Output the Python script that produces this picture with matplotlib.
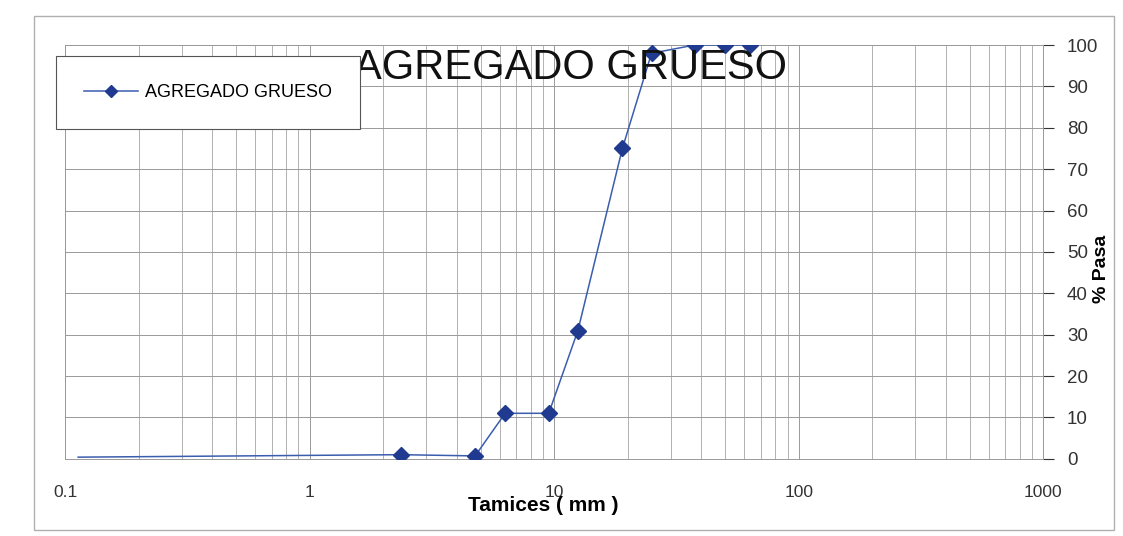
import numpy as np
import matplotlib
matplotlib.use('Agg')
import matplotlib.pyplot as plt
from matplotlib.ticker import FixedLocator, FixedFormatter, LogLocator, NullFormatter
from matplotlib.patches import Rectangle

# ==================== 数据 ====================
tamices_mm = [0.113, 2.36, 4.75, 6.3, 9.5, 12.5, 19.0, 25.0, 37.5, 50.0, 63.0]
pasa_pct = [0.4, 1.0, 0.7, 11.0, 11.0, 31.0, 75.0, 98.0, 100.0, 100.0, 100.0]
x_ticks = [0.1, 1, 10, 100, 1000]
x_labels = ['0.1', '1', '10', '100', '1000']
y_ticks = list(range(0, 101, 10))

TITLE = 'AGREGADO GRUESO'
SERIES = 'AGREGADO GRUESO'

plt.rcParams['font.family'] = ['Liberation Sans', 'DejaVu Sans']

fig = plt.figure(figsize=(11.23, 5.36), dpi=100)
fig.patch.set_facecolor('white')
fig.add_artist(Rectangle((0.030, 0.012), 0.962, 0.958, transform=fig.transFigure,
                         fill=False, edgecolor='#b0b0b0', linewidth=1.0))

ax = fig.add_axes([0.058, 0.144, 0.871, 0.772])
ax.set_xscale('log')
ax.set_xlim(0.1, 1000)
ax.set_ylim(0, 100)

ax.plot(tamices_mm, pasa_pct, color='#3a5dae', linewidth=1.1, marker='D',
        markersize=8.5, markerfacecolor='#1f3a8f', markeredgecolor='#1f3a8f',
        markevery=list(range(1, len(tamices_mm))), label=SERIES, zorder=3)

ax.xaxis.set_major_locator(FixedLocator(x_ticks))
ax.xaxis.set_major_formatter(FixedFormatter(x_labels))
ax.xaxis.set_minor_locator(LogLocator(base=10, subs=np.arange(2, 10)))
ax.xaxis.set_minor_formatter(NullFormatter())
ax.set_yticks(y_ticks)
ax.yaxis.tick_right()
ax.yaxis.set_label_position('right')

ax.grid(which='major', axis='both', color='#999999', linewidth=0.7)
ax.grid(which='minor', axis='x', color='#a5a5a5', linewidth=0.6)
for s in ax.spines.values():
    s.set_color('#999999')
    s.set_linewidth(0.7)

ax.tick_params(axis='x', which='both', length=0, labelsize=12.5, colors='#333333', pad=19)
ax.tick_params(axis='y', which='major', length=8, labelsize=13.5, colors='#333333',
               direction='out', pad=9)

ax.set_xlabel('Tamices ( mm )', fontsize=15, fontweight='bold')
ax.set_ylabel('% Pasa', fontsize=14, fontweight='bold')
ax.yaxis.set_label_coords(1.051, 0.46)
ax.xaxis.set_label_coords(0.489, -0.09)

ax.text(0.517, 0.945, TITLE, transform=ax.transAxes, ha='center', va='center',
        fontsize=30, color='#111111', zorder=4)

leg = ax.legend(loc='upper left', bbox_to_anchor=(-0.009, 0.973), borderaxespad=0,
                fontsize=13, frameon=True, fancybox=False, edgecolor='#555555',
                borderpad=1.55, handlelength=3.0, handletextpad=0.35, framealpha=1)
leg.get_frame().set_linewidth(0.8)
for h in leg.legend_handles:
    h.set_markersize(6)

fig.savefig('out.png', dpi=100, facecolor='white')
